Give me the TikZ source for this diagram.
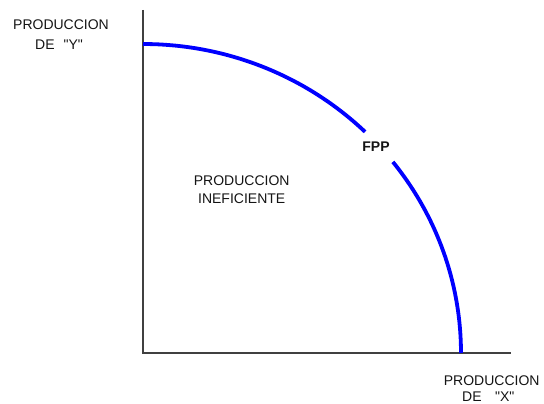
\documentclass[tikz,border=0pt]{standalone}
\usepackage{fontspec}
\setmainfont{Liberation Sans}
\newfontfamily\libsans{Liberation Sans}
\begin{document}
\begin{tikzpicture}[x=1pt,y=-1pt,
  axisline/.style={line width=1.8pt,draw={rgb,255:red,64;green,64;blue,64}},
  fppcurve/.style={line width=3.8pt,draw={rgb,255:red,0;green,0;blue,255}},
  lbl/.style={inner sep=0pt,font=\libsans\fontsize{14}{16}\selectfont,text={rgb,255:red,20;green,20;blue,20}}]
\useasboundingbox (0,0) rectangle (544,404);
% axes
\coordinate (origin) at (143,353);
\coordinate (ytop) at (143,10);
\coordinate (xend) at (511,353);
\draw[axisline] (ytop) -- (origin) -- (xend);
% production possibility frontier (quarter ellipse with gap for label)
\draw[fppcurve] plot[domain=45.7:90,samples=60,smooth] ({143+318*cos(\x)},{353-309*sin(\x)});
\draw[fppcurve] plot[domain=0:38.2,samples=60,smooth] ({143+318*cos(\x)},{353-309*sin(\x)});
% labels
\node[lbl,anchor=base] (ylab1) at (61,30) {PRODUCCION};
\node[lbl,anchor=base west] (ylab2) at (35,49.5) {DE\hspace{9pt}\symbol{34}Y\symbol{34}};
\node[lbl,anchor=base] (mid1) at (241.7,185) {PRODUCCION};
\node[lbl,anchor=base] (mid2) at (241.7,203.3) {INEFICIENTE};
\node[lbl,anchor=base,font=\libsans\fontsize{14}{16}\selectfont\bfseries] (fpp) at (376,151.7) {FPP};
\node[lbl,anchor=base] (xlab1) at (491.7,385) {PRODUCCION};
\node[lbl,anchor=base west] (xlab2) at (462,401.5) {DE\hspace{13.5pt}\symbol{34}X\symbol{34}};
\end{tikzpicture}
\end{document}
